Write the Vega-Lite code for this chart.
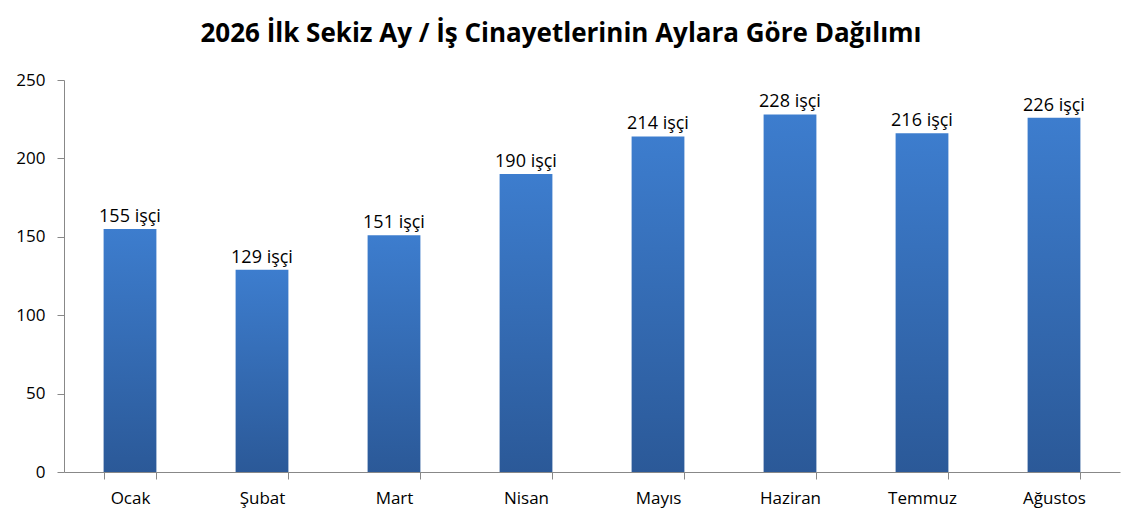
{
  "$schema": "https://vega.github.io/schema/vega-lite/v6.json",
  "autosize": "none",
  "width": 1056,
  "height": 392,
  "padding": {"left": 64, "top": 80, "right": 2, "bottom": 53},
  "background": "white",
  "title": {
    "text": "2026 İlk Sekiz Ay / İş Cinayetlerinin Aylara Göre Dağılımı",
    "font": "Open Sans",
    "fontSize": 26,
    "fontWeight": "bold",
    "color": "#000000",
    "anchor": "middle",
    "dx": -31,
    "baseline": "alphabetic",
    "offset": 26,
    "dy": 23
  },
  "data": {
    "values": [
      {"ay": "Ocak", "isci": 155, "etiket": "155 işçi"},
      {"ay": "Şubat", "isci": 129, "etiket": "129 işçi"},
      {"ay": "Mart", "isci": 151, "etiket": "151 işçi"},
      {"ay": "Nisan", "isci": 190, "etiket": "190 işçi"},
      {"ay": "Mayıs", "isci": 214, "etiket": "214 işçi"},
      {"ay": "Haziran", "isci": 228, "etiket": "228 işçi"},
      {"ay": "Temmuz", "isci": 216, "etiket": "216 işçi"},
      {"ay": "Ağustos", "isci": 226, "etiket": "226 işçi"}
    ]
  },
  "encoding": {
    "x": {
      "field": "ay",
      "type": "nominal",
      "sort": null,
      "title": null,
      "scale": {"paddingInner": 0.6, "paddingOuter": 0.3},
      "axis": {
        "labelAngle": 0,
        "labelFont": "Open Sans",
        "labelFontSize": 17,
        "labelColor": "#000000",
        "labelPadding": 11,
        "domainColor": "#888888",
        "tickColor": "#888888",
        "tickSize": 7,
        "tickBand": "extent"
      }
    },
    "y": {
      "field": "isci",
      "type": "quantitative",
      "title": null,
      "scale": {"domain": [0, 250]},
      "axis": {
        "values": [0, 50, 100, 150, 200, 250],
        "grid": false,
        "labelFont": "Open Sans",
        "labelFontSize": 17,
        "labelColor": "#000000",
        "labelPadding": 12,
        "domainColor": "#888888",
        "tickColor": "#888888",
        "tickSize": 7
      }
    }
  },
  "layer": [
    {
      "mark": {
        "type": "bar",
        "color": {
          "gradient": "linear",
          "x1": 0, "y1": 0, "x2": 0, "y2": 1,
          "stops": [
            {"offset": 0, "color": "#3d7dce"},
            {"offset": 1, "color": "#2b5998"}
          ]
        }
      }
    },
    {
      "mark": {
        "type": "text",
        "baseline": "alphabetic",
        "dy": -7,
        "font": "Open Sans",
        "fontSize": 18,
        "color": "#000000"
      },
      "encoding": {"text": {"field": "etiket"}}
    }
  ],
  "config": {"view": {"stroke": null}}
}
